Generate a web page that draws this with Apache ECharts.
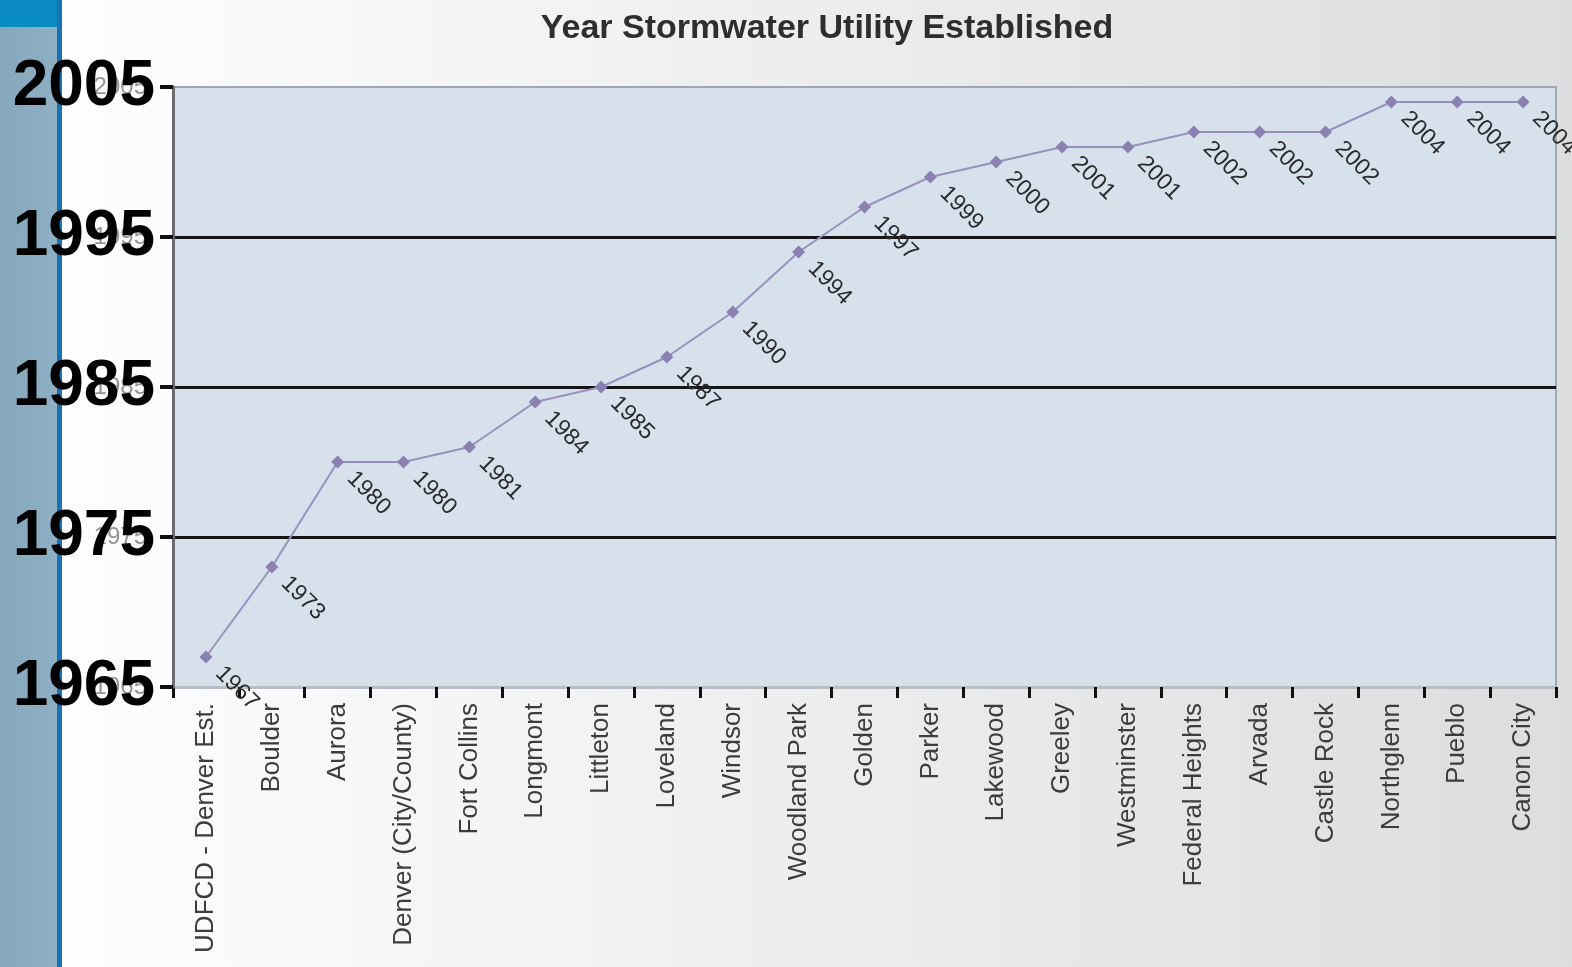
<!DOCTYPE html>
<html>
<head>
<meta charset="utf-8">
<script src="https://cdn.jsdelivr.net/npm/echarts@6/dist/echarts.min.js"></script>
<style>
  html, body { margin: 0; padding: 0; }
  #chart { width: 1572px; height: 967px; }
</style>
</head>
<body>
<div id="chart"></div>
<script>
// 城市名称
var cities = ['UDFCD - Denver Est.', 'Boulder', 'Aurora', 'Denver (City/County)', 'Fort Collins',
    'Longmont', 'Littleton', 'Loveland', 'Windsor', 'Woodland Park', 'Golden', 'Parker',
    'Lakewood', 'Greeley', 'Westminster', 'Federal Heights', 'Arvada', 'Castle Rock',
    'Northglenn', 'Pueblo', 'Canon City'];
// 成立年份
var years = [1967, 1973, 1980, 1980, 1981, 1984, 1985, 1987, 1990, 1994, 1997, 1999,
    2000, 2001, 2001, 2002, 2002, 2002, 2004, 2004, 2004];
// y 轴刻度
var yTicks = [1965, 1975, 1985, 1995, 2005];

var chart = echarts.init(document.getElementById('chart'));

var yMin = yTicks[0], yMax = yTicks[yTicks.length - 1];

var option = {
    animation: false,
    backgroundColor: {
        type: 'linear', x: 0, y: 0, x2: 1, y2: 0,
        colorStops: [{ offset: 0, color: '#ffffff' }, { offset: 1, color: '#dcdddf' }]
    },
    // 左边的装饰条
    graphic: [
        { type: 'rect', z: -1, shape: { x: 0, y: 0, width: 58, height: 967 },
          style: { fill: { type: 'linear', x: 0, y: 0, x2: 1, y2: 0,
              colorStops: [{ offset: 0, color: '#86a8bd' }, { offset: 1, color: '#8eb0c5' }] } } },
        { type: 'rect', z: -1, shape: { x: 0, y: 0, width: 58, height: 27 }, style: { fill: '#0a8cc2' } },
        { type: 'rect', z: -1, shape: { x: 57, y: 0, width: 5, height: 967 }, style: { fill: '#1a72b4' } }
    ],
    title: {
        text: 'Year Stormwater Utility Established',
        left: 822, top: 7, textAlign: 'center',
        textStyle: { fontFamily: 'Liberation Sans', fontSize: 34, fontWeight: 'bold', color: '#2e2e2e' }
    },
    grid: {
        left: 173, right: 16, top: 87, bottom: 280,
        show: true, backgroundColor: '#d7e1eb', borderColor: '#a0a6ae', borderWidth: 2
    },
    xAxis: {
        type: 'category',
        data: cities,
        boundaryGap: true,
        axisLine: { lineStyle: { color: '#b9bdc4', width: 3 } },
        axisTick: { show: true, length: 11, lineStyle: { color: '#111', width: 3 } },
        axisLabel: {
            rotate: 90, interval: 0, margin: 16,
            fontFamily: 'Liberation Sans', fontSize: 26, color: '#3c3c3c'
        }
    },
    yAxis: [{
        // 原图里的小号灰色刻度
        type: 'value',
        position: 'left',
        min: yMin, max: yMax, interval: 10,
        z: 1,
        axisLine: { show: false },
        axisTick: { show: false },
        splitLine: { show: false },
        axisLabel: {
            margin: 26, padding: [8, 0, 0, 0],
            formatter: function (v) { return String(v); },
            fontFamily: 'Liberation Sans', fontSize: 24, color: 'rgba(80,80,80,0.6)'
        }
    }, {
        type: 'value',
        position: 'left',
        offset: 0,
        min: yMin, max: yMax, interval: 10,
        z: 3,
        axisLine: { show: true, lineStyle: { color: '#6a6c70', width: 3 } },
        axisTick: { show: true, length: 13, lineStyle: { color: '#111', width: 4 } },
        axisLabel: {
            margin: 18,
            formatter: function (v) { return String(v); },
            fontFamily: 'Liberation Sans', fontSize: 64, fontWeight: 'bold', color: '#000'
        },
        splitLine: {
            show: true,
            lineStyle: { color: ['transparent', '#151515', '#151515', '#151515', 'transparent'], width: 3 }
        }
    }],
    series: [{
        type: 'line',
        yAxisIndex: 1,
        data: years,
        symbol: 'diamond',
        symbolSize: 13,
        itemStyle: { color: '#8a80b2' },
        lineStyle: { color: '#9a90c0', width: 2 },
        label: {
            show: true,
            position: 'inside',
            offset: [44, 0],
            rotate: -45,
            align: 'center',
            verticalAlign: 'middle',
            fontFamily: 'Liberation Sans', fontSize: 23, color: '#2a2a2a'
        }
    }]
};

chart.setOption(option);
</script>
</body>
</html>
